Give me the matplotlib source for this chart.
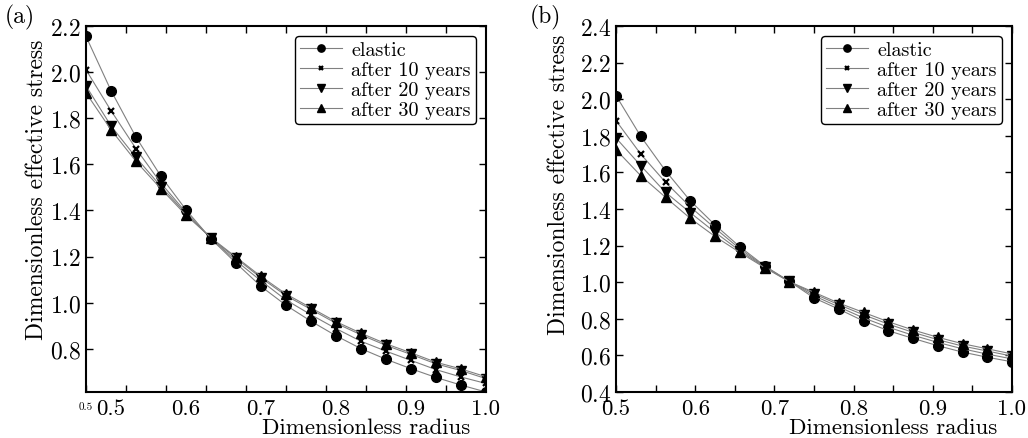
import numpy as np
from matplotlib import pyplot as plt

plt.rcParams['font.family'] = 'serif'
plt.rcParams['font.serif'] = ['cmr10', 'DejaVu Serif']
plt.rcParams['mathtext.fontset'] = 'cm'
plt.rcParams['axes.formatter.use_mathtext'] = True

# radius values (17 points between 0.5 and 1.0)
radius = np.linspace(0.5, 1.0, 17)
labels = ['elastic', 'after 10 years', 'after 20 years', 'after 30 years']

# panel (a)
a_elastic = [2.155, 1.920, 1.718, 1.548, 1.403, 1.277, 1.172, 1.071, 0.989, 0.920,
             0.857, 0.801, 0.755, 0.714, 0.676, 0.643, 0.613]
a_10 = [2.010, 1.833, 1.668, 1.518, 1.392, 1.279, 1.182, 1.095, 1.012, 0.948,
        0.888, 0.833, 0.790, 0.750, 0.710, 0.678, 0.650]
a_20 = [1.940, 1.767, 1.630, 1.504, 1.386, 1.280, 1.193, 1.108, 1.031, 0.971,
        0.911, 0.861, 0.815, 0.776, 0.735, 0.706, 0.671]
a_30 = [1.910, 1.750, 1.613, 1.494, 1.380, 1.282, 1.198, 1.114, 1.038, 0.978,
        0.918, 0.868, 0.822, 0.783, 0.742, 0.713, 0.679]

# panel (b)
b_elastic = [2.020, 1.797, 1.609, 1.445, 1.313, 1.194, 1.090, 1.005, 0.914, 0.853,
             0.788, 0.735, 0.693, 0.653, 0.618, 0.590, 0.565]
b_10 = [1.883, 1.700, 1.546, 1.412, 1.295, 1.183, 1.087, 1.004, 0.926, 0.865,
        0.805, 0.754, 0.710, 0.671, 0.636, 0.607, 0.581]
b_20 = [1.788, 1.637, 1.491, 1.380, 1.273, 1.172, 1.084, 1.004, 0.937, 0.877,
        0.822, 0.771, 0.726, 0.686, 0.651, 0.624, 0.596]
b_30 = [1.724, 1.582, 1.464, 1.349, 1.250, 1.163, 1.080, 1.003, 0.945, 0.886,
        0.835, 0.784, 0.739, 0.699, 0.664, 0.636, 0.608]

a_xticklabels = ['0.5', '0.6', '0.7', '0.8', '0.9', '1.0']
b_xticklabels = ['0.5', '0.6', '0.7', '0.8', '0.9', '1.0']

markers = [dict(marker='o', ms=7), dict(marker='x', ms=4, mew=1.6),
           dict(marker='v', ms=7), dict(marker='^', ms=7)]

fig = plt.figure(figsize=(10.28, 4.39), dpi=100)
axA = fig.add_axes([86/1028, 1-393/439, 400/1028, 366/439])
axB = fig.add_axes([616/1028, 1-393/439, 396/1028, 366/439])

def draw(ax, series):
  for ys, lab, mk in zip(series, labels, markers):
    ax.plot(radius, ys, color='#808080', lw=0.8, mfc='k', mec='k', label=lab, **mk)
  for s in ax.spines.values():
    s.set_linewidth(1.5)
  ax.tick_params(which='both', direction='in', top=True, right=True, labelsize=17)
  ax.tick_params(axis='x', which='both', labelsize=16.5)
  ax.tick_params(which='both', length=5, width=1)
  leg = ax.legend(loc='upper right', fontsize=14.5, fancybox=True, framealpha=1,
                  edgecolor='k', handlelength=2.1, handletextpad=0.45,
                  labelspacing=0.09, borderaxespad=0.5, borderpad=0.25,
                  markerscale=0.75)
  leg.get_frame().set_linewidth(1.0)
  ax.set_xlabel('Dimensionless radius', fontsize=16.5, va='baseline')
  ax.set_ylabel('Dimensionless effective stress', fontsize=17)
  ax.xaxis.set_label_coords(0.70, -0.111)

draw(axA, [a_elastic, a_10, a_20, a_30])
axA.set_xlim(0.5, 1.0)
axA.set_ylim(0.613, 2.2)
axA.set_yticks(np.arange(0.8, 2.21, 0.2))
# tick labels sit on every third data point, tick marks every 0.05
axA.set_xticks(radius[1::3])
axA.set_xticklabels(a_xticklabels)
axA.set_xticks(np.arange(0.5, 1.001, 0.05), minor=True)
axA.tick_params(axis='x', which='major', length=0, pad=5)
axA.text(0.5, -0.026, '0.5', transform=axA.get_xaxis_transform(), ha='center', va='top', fontsize=8)
axA.yaxis.set_label_coords(-0.095, 0.555)
fig.text(5/1028, 1-17/439, '(a)', fontsize=17, va='center')

draw(axB, [b_elastic, b_10, b_20, b_30])
axB.set_xlim(0.5, 1.0)
axB.set_ylim(0.4, 2.4)
axB.set_yticks(np.arange(0.4, 2.41, 0.2))
axB.set_xticks(np.arange(0.5, 1.001, 0.1))
axB.set_xticklabels(b_xticklabels)
axB.set_xticks(np.arange(0.55, 1.0, 0.1), minor=True)
axB.tick_params(axis='x', which='major', pad=5)
axB.yaxis.set_label_coords(-0.115, 0.57)
fig.text(530/1028, 1-17/439, '(b)', fontsize=17, va='center')

fig.savefig('out.png', dpi=100)
